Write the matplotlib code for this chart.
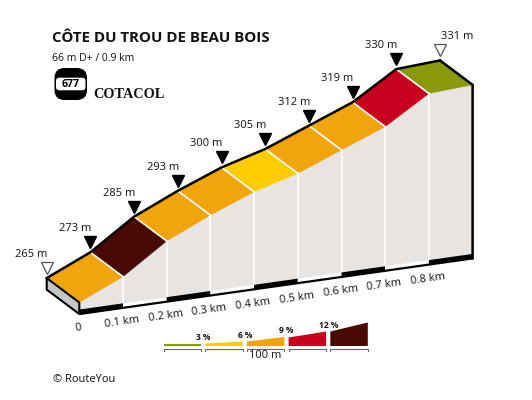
import matplotlib
matplotlib.use('Agg')
import matplotlib.pyplot as plt
from matplotlib.transforms import Affine2D
from matplotlib.patches import Polygon, FancyBboxPatch
import numpy as np

# ---------------- data ----------------
title = 'CÔTE DU TROU DE BEAU BOIS'
subtitle = '66 m D+ / 0.9 km'
cotacol_number = '677'
distance_km = [0.0, 0.1, 0.2, 0.3, 0.4, 0.5, 0.6, 0.7, 0.8, 0.9]
elevation_m = [265, 273, 285, 293, 300, 305, 312, 319, 330, 331]
tick_km = [0.0, 0.1, 0.2, 0.3, 0.4, 0.5, 0.6, 0.7, 0.8]
tick_labels = ['0', '0.1 km', '0.2 km', '0.3 km', '0.4 km', '0.5 km', '0.6 km', '0.7 km', '0.8 km']
grade_bounds = [3, 6, 9, 12]
grade_labels = ['3 %', '6 %', '9 %', '12 %']
grade_colors = ['#8a9a0c', '#ffcc00', '#f0a50c', '#c8001e', '#4a0a04']
legend_scale_label = '100 m'
credit = '© RouteYou'

FONT = ['Open Sans', 'DejaVu Sans']
plt.rcParams['font.family'] = FONT

fig = plt.figure(figsize=(5.32, 4.0), dpi=100)
ax = fig.add_axes([0, 0, 1, 1])
ax.set_xlim(0, 532)
ax.set_ylim(400, 0)
ax.axis('off')

# oblique projection: (km, m) -> pixel
base_e = 260.3
proj = Affine2D(np.array([[437.0, 0.0, 79.3],
                          [-61.8, -2.455, 302.5 + 2.455 * 265],
                          [0.0, 0.0, 1.0]]))
depth = Affine2D().translate(-32.6, -24.4)
front_t = proj
back_t = proj + depth

d = np.array(distance_km)
e = np.array(elevation_m, dtype=float)
front = front_t.transform(np.column_stack([d, e]))
back = back_t.transform(np.column_stack([d, e]))
base_front = front_t.transform(np.column_stack([d, np.full_like(d, base_e)]))
base_back = back_t.transform(np.column_stack([d, np.full_like(d, base_e)]))

# side face
side = np.vstack([front, base_front[::-1]])
ax.add_patch(Polygon(side, closed=True, facecolor='#e8e4e1', edgecolor='none', zorder=1))

# left end face
ax.add_patch(Polygon([back[0], front[0], base_front[0], base_back[0]], closed=True,
                     facecolor='#c6c6c6', edgecolor='black', lw=1.5, joinstyle='round', zorder=3))

# top strips coloured by gradient
grades = np.diff(e) / (np.diff(d) * 1000) * 100
idx = np.digitize(grades, grade_bounds)
for i in range(len(d) - 1):
    ax.add_patch(Polygon([back[i], back[i + 1], front[i + 1], front[i]], closed=True,
                         facecolor=grade_colors[idx[i]], edgecolor=grade_colors[idx[i]], lw=0.3, zorder=2))
for i in range(1, len(d) - 1):
    ax.plot([back[i][0], front[i][0]], [back[i][1], front[i][1]], color='white', lw=1.2, zorder=2.5)
    ax.plot([front[i][0], base_front[i][0]], [front[i][1], base_front[i][1]], color='white', lw=1.2, zorder=2.5)

# base scale band
for i in range(len(d) - 1):
    p0, p1 = base_front[i], base_front[i + 1]
    band = [p0, p1, p1 + [0, -4.5], p0 + [0, -4.5]]
    ax.add_patch(Polygon(band, closed=True, facecolor='black' if i % 2 == 0 else 'white',
                         edgecolor='none', zorder=2.6))
ax.plot(base_front[:, 0], base_front[:, 1], color='black', lw=1.6, zorder=2.7, solid_capstyle='butt')

# outline: back edge, end edge
ax.plot(back[:, 0], back[:, 1], color='black', lw=1.8, zorder=4, solid_joinstyle='round')
ax.plot([back[-1][0], front[-1][0], base_front[-1][0]],
        [back[-1][1], front[-1][1], base_front[-1][1]], color='black', lw=1.8, zorder=4,
        solid_joinstyle='miter')

# markers and elevation labels
mark_t = back_t + Affine2D().translate(0, -10) + ax.transData
inner = slice(1, len(d) - 1)
ax.plot(d[inner], e[inner], linestyle='none', marker='v', ms=8.8, mfc='black', mec='black',
        transform=mark_t, zorder=5)
ax.plot(d[[0, -1]], e[[0, -1]], linestyle='none', marker='v', ms=8.8, mfc='white', mec='#555555',
        mew=0.9, transform=mark_t, zorder=5)
for i in range(len(d)):
    x, y = back[i]
    if i == len(d) - 1:
        ax.text(x + 1, y - 21, f'{elevation_m[i]} m', ha='left', va='baseline', fontsize=8, color='#111111')
    else:
        ax.text(x + 1, y - 21, f'{elevation_m[i]} m', ha='right', va='baseline', fontsize=8, color='#111111')

# distance labels
ang = np.degrees(np.arctan2(61.8, 437.0))
tk = front_t.transform(np.column_stack([tick_km, np.full(len(tick_km), base_e)]))
for (x, y), lab in zip(tk, tick_labels):
    ax.text(x - 1, y + 14.5, lab, ha='center', va='center', rotation=ang, rotation_mode='anchor',
            fontsize=8, color='#111111')

# title block
ax.text(52, 41.5, title, fontsize=10.9, fontweight='bold', ha='left', va='baseline', color='#111111')
ax.text(52, 61, subtitle, fontsize=7.5, ha='left', va='baseline', color='#111111')

# cotacol logo
ax.add_patch(FancyBboxPatch((56, 69.5), 29.5, 29, boxstyle='round,pad=1.5,rounding_size=10',
                            facecolor='black', edgecolor='none', zorder=3))
ax.add_patch(FancyBboxPatch((56.3, 78), 28.9, 12, boxstyle='round,pad=0.3,rounding_size=3',
                            facecolor='white', edgecolor='none', zorder=4))
ax.text(70.8, 84.3, cotacol_number, fontsize=7.6, fontweight='bold', ha='center', va='center',
        color='black', zorder=5)
ax.text(93, 98.5, 'COTACOL', family=['Liberation Serif', 'DejaVu Serif'], fontsize=10.3,
        fontweight='bold', ha='left', va='baseline', color='#111111')

# legend
lx0, lw_, gap, ybot = 163.5, 37.5, 4.2, 346.0
heights = [(2.2, 2.2), (2.5, 4.5), (4.5, 9.0), (8.5, 14.5), (14.5, 23.5)]
for k, col in enumerate(grade_colors):
    x0 = lx0 + k * (lw_ + gap)
    x1 = x0 + lw_
    hl, hr = heights[k]
    ax.add_patch(Polygon([(x0, ybot), (x1, ybot), (x1, ybot - hr), (x0, ybot - hl)], closed=True,
                         facecolor=col, edgecolor='none'))
    ax.plot([x0, x0, x1, x1], [350.5, 348.8, 348.8, 350.5], color='#666666', lw=0.8)
    if k < len(grade_labels):
        ax.text(x1 + gap / 2, ybot - hr - 6.5, grade_labels[k], fontsize=6, fontweight='bold',
                ha='center', va='center', color='#111111')
ax.text(lx0 + 2 * (lw_ + gap) + lw_ / 2, 355.5, legend_scale_label, fontsize=8, ha='center',
        va='center', color='#111111')

ax.text(53, 379, credit, fontsize=8, ha='left', va='center', color='#111111')

fig.savefig('out.png', dpi=100)
